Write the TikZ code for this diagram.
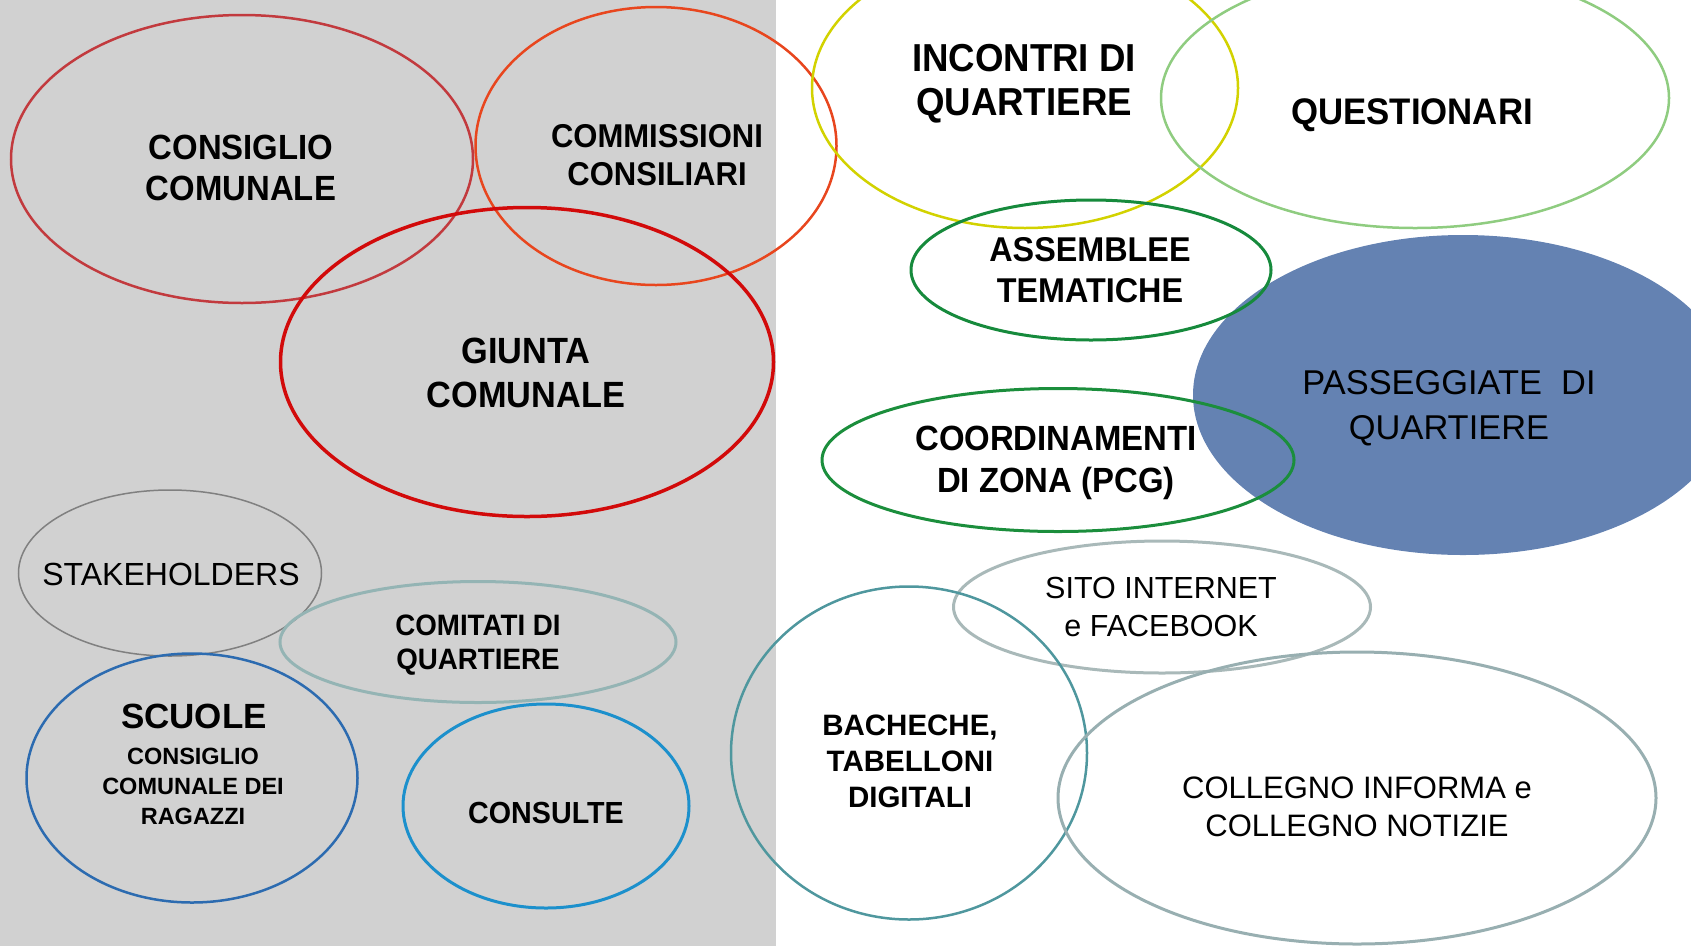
\documentclass[tikz,border=0pt]{standalone}
\usepackage{fontspec}
\setmainfont{Liberation Sans}
\newfontfamily\condf[FakeStretch=0.94]{Liberation Sans}
\usetikzlibrary{shapes.geometric}
\definecolor{bggray}{HTML}{D1D1D1}
\definecolor{cConsiglio}{HTML}{C23A3E}
\definecolor{cCommiss}{HTML}{E8461E}
\definecolor{cGiunta}{HTML}{D20A0A}
\definecolor{cStake}{HTML}{808080}
\definecolor{cComitati}{HTML}{94B4B4}
\definecolor{cScuole}{HTML}{2C6BB0}
\definecolor{cConsulte}{HTML}{1C90CC}
\definecolor{cIncontri}{HTML}{D2D200}
\definecolor{cQuest}{HTML}{8FCC80}
\definecolor{cAssem}{HTML}{168A3C}
\definecolor{cPass}{HTML}{6482B2}
\definecolor{cCoord}{HTML}{1B8E3C}
\definecolor{cSito}{HTML}{A9B9B9}
\definecolor{cBach}{HTML}{4F979E}
\definecolor{cColl}{HTML}{98AFB1}
\begin{document}
\begin{tikzpicture}[x=1pt,y=-1pt,
  ring/.style={draw, ellipse, inner sep=0pt, line width=2.5pt},
  lbl/.style={inner sep=0pt, anchor=north, align=center, text=black},
  cb/.style={font=\condf\bfseries\fontsize{#1}{#1}\selectfont},
]
\useasboundingbox (0,0) rectangle (1691,946);
\clip (0,0) rectangle (1691,946);
\fill[bggray] (0,0) rectangle (776,946);

% left side rings
\node[ring, draw=cConsiglio, minimum width=462pt, minimum height=288pt] (eConsiglio) at (242,159) {};
\node[ring, draw=cCommiss, minimum width=361pt, minimum height=278pt] (eCommiss) at (656,146) {};
\node[ring, draw=cGiunta, line width=3.5pt, minimum width=493pt, minimum height=309pt] (eGiunta) at (527,362) {};
\node[ring, draw=cStake, line width=1.5pt, minimum width=303pt, minimum height=166pt] (eStake) at (170,573) {};
\node[ring, draw=cComitati, line width=3pt, minimum width=396pt, minimum height=121pt] (eComitati) at (478,642) {};
\node[ring, draw=cScuole, minimum width=331pt, minimum height=249pt] (eScuole) at (192,778) {};
\node[ring, draw=cConsulte, line width=3pt, minimum width=286pt, minimum height=204pt] (eConsulte) at (546,806) {};

% right side
\fill[cPass] (1463,395) ellipse [x radius=270, y radius=160];
\coordinate (ePass) at (1463,395);
\node[ring, draw=cIncontri, minimum width=426pt, minimum height=280pt] (eIncontri) at (1025,88) {};
\node[ring, draw=cQuest, minimum width=508pt, minimum height=260pt] (eQuest) at (1415,98) {};
\node[ring, draw=cAssem, line width=3pt, minimum width=360pt, minimum height=140pt] (eAssem) at (1091,270) {};
\node[ring, draw=cCoord, line width=3pt, minimum width=472pt, minimum height=143pt] (eCoord) at (1058,460) {};
\node[ring, draw=cSito, line width=3pt, minimum width=417pt, minimum height=132pt] (eSito) at (1162,607) {};
\node[ring, draw=cBach, minimum width=356pt, minimum height=333pt] (eBach) at (909,753) {};
\node[ring, draw=cColl, line width=3pt, minimum width=598pt, minimum height=292pt] (eColl) at (1357,798) {};

% labels
\node[lbl, font=\condf\bfseries\fontsize{35}{41}\selectfont] (tConsiglio) at (241,135) {CONSIGLIO\\COMUNALE};
\node[lbl, font=\condf\bfseries\fontsize{33}{38}\selectfont] (tCommiss) at (657,124) {COMMISSIONI\\CONSILIARI};
\node[lbl, font=\condf\bfseries\fontsize{36.5}{44}\selectfont] (tGiunta) at (526,338) {GIUNTA\\COMUNALE};
\node[lbl, font=\fontsize{32}{32}\selectfont] (tStake) at (171,563) {STAKEHOLDERS};
\node[lbl, font=\condf\bfseries\fontsize{29.5}{34}\selectfont] (tComitati) at (478,615) {COMITATI DI\\QUARTIERE};
\node[lbl, font=\bfseries\fontsize{35}{35}\selectfont] (tScuole) at (194,704) {SCUOLE};
\node[lbl, font=\bfseries\fontsize{23.5}{30}\selectfont] (tCCR) at (193,748) {CONSIGLIO\\COMUNALE DEI\\RAGAZZI};
\node[lbl, font=\condf\bfseries\fontsize{30.5}{30.5}\selectfont] (tConsulte) at (546,802) {CONSULTE};
\node[lbl, font=\condf\bfseries\fontsize{39}{44}\selectfont] (tIncontri) at (1024,44) {INCONTRI DI\\QUARTIERE};
\node[lbl, font=\condf\bfseries\fontsize{37}{37}\selectfont] (tQuest) at (1412,98) {QUESTIONARI};
\node[lbl, font=\condf\bfseries\fontsize{34.4}{41}\selectfont] (tAssem) at (1090,237) {ASSEMBLEE\\TEMATICHE};
\node[lbl, font=\fontsize{34.4}{45}\selectfont] (tPass) at (1449,370) {PASSEGGIATE\ \ DI\\QUARTIERE};
\node[lbl, font=\condf\bfseries\fontsize{35}{42}\selectfont] (tCoord) at (1056,426) {COORDINAMENTI\\DI ZONA (PCG)};
\node[lbl, font=\fontsize{30.5}{38}\selectfont] (tSito) at (1161,577) {SITO INTERNET\\e FACEBOOK};
\node[lbl, font=\bfseries\fontsize{29.5}{36}\selectfont] (tBach) at (910,715) {BACHECHE,\\TABELLONI\\DIGITALI};
\node[lbl, font=\fontsize{31}{38}\selectfont] (tColl) at (1357,777) {COLLEGNO INFORMA e\\COLLEGNO NOTIZIE};
\end{tikzpicture}
\end{document}
